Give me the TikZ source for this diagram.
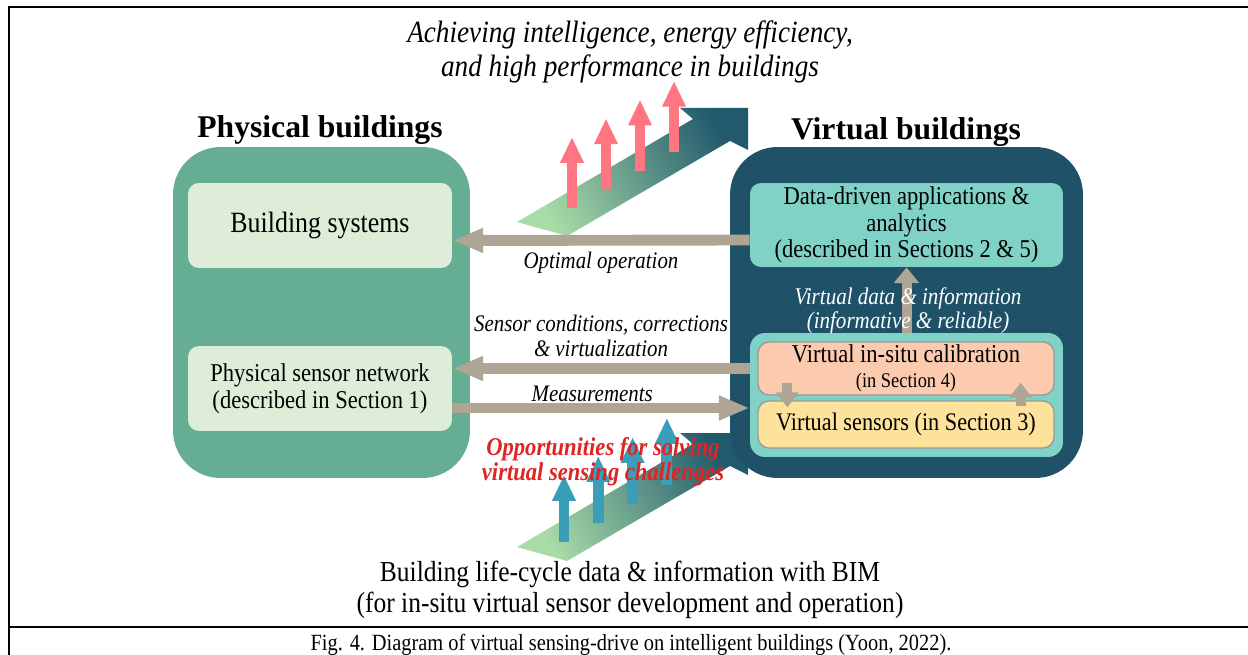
\documentclass[tikz,border=0pt]{standalone}
\usepackage{fontspec}
\setmainfont{Liberation Serif}[FakeStretch=0.88]
\newfontfamily\headfont{Liberation Serif}
\usetikzlibrary{arrows.meta,calc}

\definecolor{physgreen}{HTML}{66AE93}
\definecolor{paleboxgreen}{HTML}{DDEDD8}
\definecolor{virtblue}{HTML}{1F5269}
\definecolor{dataTeal}{HTML}{80D1C6}
\definecolor{calpeach}{HTML}{FCCAAF}
\definecolor{sensyellow}{HTML}{FDE29B}
\definecolor{boxgray}{HTML}{9A9A9A}
\definecolor{flowgray}{HTML}{AFA594}
\definecolor{liftred}{HTML}{FF7582}
\definecolor{liftblue}{HTML}{3A9DBA}
\definecolor{bandlight}{HTML}{A9DCA8}
\definecolor{banddark}{HTML}{225A6D}
\definecolor{oppred}{HTML}{E02424}

\begin{document}
\begin{tikzpicture}[x=0.02cm, y=-0.02cm,
    bigbox/.style={rounded corners=0.95cm, inner sep=0pt},
    box/.style={rounded corners=0.22cm, inner sep=0pt, fill=paleboxgreen, align=center,
        minimum width=5.28cm, minimum height=1.7cm},
    flow/.style={draw=flowgray, line width=6.2pt, -{Triangle[length=17.5pt,width=13pt]}},
    lift/.style={line width=6.2pt, -{Triangle[length=14.7pt,width=12.5pt]}},
    smallflow/.style={draw=flowgray, line width=5.7pt, -{Triangle[length=8.5pt,width=12.5pt]}},
    lbl/.style={font=\fontsize{13.5}{14.7}\selectfont\itshape, align=center}]
    \useasboundingbox (0,0) rectangle (1248,655);

    % Frame
    \draw[line width=1.4pt] (9,655) -- (9,7) -- (1248,7);
    \draw[line width=1.4pt] (9,627) -- (1248,627);

    % Rising bands
    \foreach \dy in {0,325}
        \shade[left color=bandlight, right color=banddark, shading angle=120]
            (517,222+\dy) -- (693,119+\dy) -- (680,108+\dy) -- (748,108+\dy)
            -- (748,150+\dy) -- (730,141+\dy) -- (567,236+\dy) -- cycle;
    \foreach \i in {0,...,3}
        \draw[lift, draw=liftred] ({572+34*\i},{208-18.7*\i}) -- ++(0,-71);
    \foreach \i in {0,...,3}
        \draw[lift, draw=liftblue] ({564+34.3*\i},{542-19*\i}) -- ++(0,-67);

    % Buildings
    \node[bigbox, fill=physgreen, minimum width=5.94cm, minimum height=6.62cm] (phys) at (321.5,312.5) {};
    \node[bigbox, fill=virtblue, minimum width=7.06cm, minimum height=6.62cm] (virt) at (906.5,312.5) {};
    \node[font=\headfont\bfseries\fontsize{18}{20}\selectfont] (physname) at (320,130) {Physical buildings};
    \node[font=\headfont\bfseries\fontsize{18}{20}\selectfont] (virtname) at (906,132) {Virtual buildings};

    \node[box, font=\fontsize{16.75}{18}\selectfont] (bs) at (320,225.5) {Building systems};
    \node[box, font=\fontsize{14.6}{15.3}\selectfont] (psn) at (320,388.5) {Physical sensor network\\(described in Section 1)};
    \node[box, fill=dataTeal, minimum width=6.26cm, minimum height=1.68cm, font=\fontsize{14.6}{15}\selectfont] (dd) at (906.5,225)
        {Data-driven applications \&\\analytics\\(described in Sections 2 \& 5)};
    \node[box, fill=dataTeal, minimum width=6.26cm, minimum height=2.48cm, rounded corners=0.3cm] (vin) at (906.5,395) {};
    \node[box, fill=calpeach, draw=boxgray, line width=0.8pt, minimum width=5.92cm, minimum height=1.06cm,
        font=\fontsize{14.6}{14.2}\selectfont] (cal) at (906,368.5)
        {Virtual in-situ calibration\\{\fontsize{11.9}{13}\selectfont (in Section 4)}};
    \node[box, fill=sensyellow, draw=boxgray, line width=0.8pt, minimum width=5.92cm, minimum height=0.94cm,
        font=\fontsize{14.4}{15}\selectfont] (vs) at (906,424.5) {Virtual sensors (in Section 3)};

    % Inner arrows
    \draw[smallflow] ($(cal.south west)+(30,-13)$) -- ($(vs.north west)+(30,7)$);
    \draw[smallflow] ($(vs.north east)+(-34,6)$) -- ($(cal.south east)+(-34,-13)$);
    \draw[smallflow, -{Triangle[length=9pt,width=14pt]}] (vin.north) -- (dd.south);
    \node[lbl, text=white, font=\fontsize{13.6}{13.6}\selectfont\itshape] (vdata) at (908,311)
        {Virtual data \& information\\(informative \& reliable)};

    % Flows
    \draw[flow] ($(dd.west)+(0,15)$) -- ($(bs.east)+(0,15)$)
        node[midway, below, lbl] (optlbl) {Optimal operation};
    \draw[flow] (cal.west -| vin.west) -- (cal.west -| psn.east)
        node[midway, above, lbl] (corrlbl) {Sensor conditions, corrections\\\& virtualization};
    \draw[flow] ($(psn.east)+(0,19.5)$) -- ($(vin.west |- psn.east)+(0,19.5)$)
        node[midway, above, xshift=-5pt, yshift=-3pt, lbl] (measlbl) {Measurements};

    % Texts
    \node[font=\fontsize{14.6}{14.2}\selectfont\bfseries\itshape, text=oppred, align=center] (opp) at (603,462)
        {Opportunities for solving\\virtual sensing challenges};
    \node[font=\fontsize{17.6}{19.3}\selectfont\itshape, align=center] (goal) at (630,52)
        {Achieving intelligence, energy efficiency,\\and high performance in buildings};
    \node[font=\fontsize{16.5}{17.6}\selectfont, align=center] (bim) at (630,590)
        {Building life-cycle data \& information with BIM\\(for in-situ virtual sensor development and operation)};
    \node[font=\fontsize{13.2}{15}\selectfont, anchor=base, inner sep=0pt] (caption) at (631,650)
        {Fig. 4. Diagram of virtual sensing-drive on intelligent buildings (Yoon, 2022).};
\end{tikzpicture}
\end{document}
